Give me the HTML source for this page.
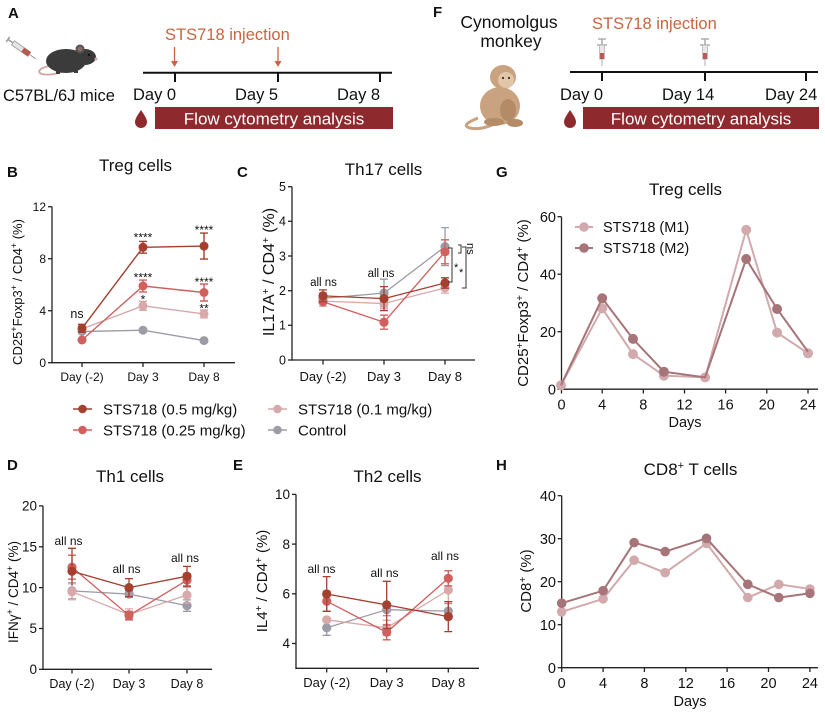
<!DOCTYPE html>
<html><head><meta charset="utf-8"><style>
html,body{margin:0;padding:0;background:#fff;}
svg{display:block;font-family:"Liberation Sans",Arial,sans-serif;}
</style></head><body>
<svg width="825" height="712" viewBox="0 0 825 712" xmlns="http://www.w3.org/2000/svg">
<rect width="825" height="712" fill="#fff"/>

<!-- ============ PANEL A ============ -->
<text x="8" y="18" font-size="15" font-weight="bold" fill="#111">A</text>
<!-- syringe -->
<g transform="translate(26,52) rotate(35)">
  <rect x="-16" y="-2.5" width="20" height="5" fill="#e6e6e6" stroke="#999" stroke-width="0.8"/>
  <rect x="-4" y="-2.5" width="8" height="5" fill="#b85a4a"/>
  <line x1="-22" y1="0" x2="-16" y2="0" stroke="#999" stroke-width="1.5"/>
  <line x1="-22" y1="-3" x2="-22" y2="3" stroke="#999" stroke-width="1.5"/>
  <line x1="4" y1="0" x2="12" y2="0" stroke="#888" stroke-width="0.8"/>
</g>
<!-- mouse -->
<path d="M49 66 C40 68 36 72 42 74 C50 76 58 73 64 71" fill="none" stroke="#d6a3a3" stroke-width="1.8"/>
<ellipse cx="66" cy="61" rx="20" ry="12" fill="#3b3b3b"/>
<ellipse cx="85" cy="57" rx="11" ry="8" fill="#3b3b3b"/>
<circle cx="80" cy="49" r="4.5" fill="#555"/>
<circle cx="80" cy="49" r="2.5" fill="#8a6a6a"/>
<circle cx="89" cy="55" r="1.2" fill="#111"/>
<circle cx="96" cy="59" r="1.5" fill="#d6a3a3"/>
<rect x="56" y="70" width="4" height="4" fill="#3b3b3b"/>
<rect x="74" y="69" width="4" height="4" fill="#3b3b3b"/>
<text x="3" y="101" font-size="16.5" fill="#111">C57BL/6J mice</text>

<text x="165" y="40" font-size="16.5" fill="#c8653f">STS718 injection</text>
<g stroke="#c8653f" stroke-width="1.3" fill="#c8653f">
  <line x1="174.5" y1="47" x2="174.5" y2="63"/>
  <path d="M171 61 L174.5 67 L178 61 Z" stroke="none"/>
  <line x1="278" y1="47" x2="278" y2="63"/>
  <path d="M274.5 61 L278 67 L281.5 61 Z" stroke="none"/>
</g>
<line x1="143" y1="72.7" x2="392" y2="72.7" stroke="#111" stroke-width="2"/>
<g stroke="#111" stroke-width="2">
  <line x1="175" y1="72.7" x2="175" y2="82"/>
  <line x1="278" y1="72.7" x2="278" y2="82"/>
  <line x1="380" y1="72.7" x2="380" y2="82"/>
</g>
<text x="133" y="100" font-size="16.5" fill="#111">Day 0</text>
<text x="235" y="100" font-size="16.5" fill="#111">Day 5</text>
<text x="337" y="100" font-size="16.5" fill="#111">Day 8</text>
<path d="M141 110 C137 116 135 119 135 122 A6 6 0 0 0 147 122 C147 119 145 116 141 110 Z" fill="#8e2a2d"/>
<rect x="155" y="107" width="238" height="22" fill="#8e2a2d"/>
<text x="274" y="124.5" font-size="17" fill="#fff" text-anchor="middle">Flow cytometry analysis</text>

<!-- ============ PANEL F ============ -->
<text x="433" y="17" font-size="15" font-weight="bold" fill="#111">F</text>
<text x="509" y="28" font-size="17.5" fill="#111" text-anchor="middle">Cynomolgus</text>
<text x="511" y="47" font-size="17.5" fill="#111" text-anchor="middle">monkey</text>
<!-- monkey -->
<path d="M478 118 C468 122 462 126 470 128 C478 130 488 127 494 124" fill="none" stroke="#c9a27f" stroke-width="3"/>
<ellipse cx="500" cy="106" rx="20" ry="19" fill="#c9a27f"/>
<ellipse cx="503" cy="77" rx="13" ry="12" fill="#c9a27f"/>
<ellipse cx="506" cy="80" rx="8" ry="8" fill="#e3c6a8"/>
<circle cx="503" cy="78" r="1.1" fill="#333"/>
<circle cx="509" cy="78" r="1.1" fill="#333"/>
<ellipse cx="508" cy="110" rx="8" ry="11" fill="#b38b67"/>
<ellipse cx="494" cy="122" rx="10" ry="4" fill="#b38b67"/>
<ellipse cx="515" cy="123" rx="8" ry="4" fill="#b38b67"/>

<text x="592" y="29" font-size="16.5" fill="#c8653f">STS718 injection</text>
<g>
  <line x1="598" y1="39" x2="606" y2="39" stroke="#999" stroke-width="1.2"/>
  <line x1="602" y1="39" x2="602" y2="45" stroke="#aaa" stroke-width="1.5"/>
  <line x1="597" y1="45" x2="607" y2="45" stroke="#999" stroke-width="1.2"/>
  <rect x="599.5" y="45" width="5" height="14" fill="#e8e8e8" stroke="#aaa" stroke-width="0.7"/>
  <rect x="600" y="53" width="4" height="6" fill="#b85a5a"/>
  <line x1="602" y1="59" x2="602" y2="66" stroke="#999" stroke-width="0.8"/>
  <line x1="701" y1="39" x2="709" y2="39" stroke="#999" stroke-width="1.2"/>
  <line x1="705" y1="39" x2="705" y2="45" stroke="#aaa" stroke-width="1.5"/>
  <line x1="700" y1="45" x2="710" y2="45" stroke="#999" stroke-width="1.2"/>
  <rect x="702.5" y="45" width="5" height="14" fill="#e8e8e8" stroke="#aaa" stroke-width="0.7"/>
  <rect x="703" y="53" width="4" height="6" fill="#b85a5a"/>
  <line x1="705" y1="59" x2="705" y2="66" stroke="#999" stroke-width="0.8"/>
</g>
<line x1="570" y1="72" x2="818" y2="72" stroke="#111" stroke-width="2"/>
<g stroke="#111" stroke-width="2">
  <line x1="602" y1="72" x2="602" y2="81"/>
  <line x1="705" y1="72" x2="705" y2="81"/>
  <line x1="806" y1="72" x2="806" y2="81"/>
</g>
<text x="560" y="100" font-size="16.5" fill="#111">Day 0</text>
<text x="662" y="100" font-size="16.5" fill="#111">Day 14</text>
<text x="765" y="100" font-size="16.5" fill="#111">Day 24</text>
<path d="M570 110 C566 116 564 119 564 122 A6 6 0 0 0 576 122 C576 119 574 116 570 110 Z" fill="#8e2a2d"/>
<rect x="583" y="107" width="236" height="22" fill="#8e2a2d"/>
<text x="701" y="124.5" font-size="17" fill="#fff" text-anchor="middle">Flow cytometry analysis</text>

<!-- ============ PANEL B ============ -->
<text x="7" y="177" font-size="15" font-weight="bold" fill="#111">B</text>
<text x="135.5" y="171" font-size="17" fill="#111" text-anchor="middle">Treg cells</text>
<g stroke="#222" stroke-width="1.3" fill="none">
  <line x1="52" y1="206.7" x2="52" y2="363.3"/>
  <line x1="51.4" y1="362.7" x2="235" y2="362.7"/>
  <line x1="48" y1="206.7" x2="52" y2="206.7"/>
  <line x1="48" y1="258.7" x2="52" y2="258.7"/>
  <line x1="48" y1="310.7" x2="52" y2="310.7"/>
  <line x1="48" y1="362.7" x2="52" y2="362.7"/>
  <line x1="82" y1="362.7" x2="82" y2="367"/>
  <line x1="143" y1="362.7" x2="143" y2="367"/>
  <line x1="204" y1="362.7" x2="204" y2="367"/>
</g>
<g font-size="12" fill="#111" text-anchor="end">
  <text x="46" y="211">12</text><text x="46" y="263">8</text><text x="46" y="315">4</text><text x="46" y="367">0</text>
</g>
<g font-size="12" fill="#111" text-anchor="middle">
  <text x="82" y="381">Day (-2)</text><text x="143" y="381">Day 3</text><text x="204" y="381">Day 8</text>
</g>
<text transform="translate(22,292) rotate(-90)" font-size="13" fill="#111" text-anchor="middle">CD25<tspan font-size="9" baseline-shift="super">+</tspan>Foxp3<tspan font-size="9" baseline-shift="super">+</tspan> / CD4<tspan font-size="9" baseline-shift="super">+</tspan> (%)</text>
<!-- control -->
<g stroke="#9c9ca6" fill="#9c9ca6" stroke-width="1.4">
  <polyline points="82,331.5 143,330.2 204,340.6" fill="none"/>
  <circle cx="82" cy="331.5" r="4.5" stroke="none"/><circle cx="143" cy="330.2" r="4.5" stroke="none"/><circle cx="204" cy="340.6" r="4.5" stroke="none"/>
</g>
<!-- 0.1 -->
<g stroke="#d8a8aa" fill="#d8a8aa" stroke-width="1.4">
  <polyline points="82,328.9 143,305.8 204,313.9" fill="none"/>
  <path d="M143 301.3V310.3M139 301.3H147M139 310.3H147M204 310V317.8M200 310H208M200 317.8H208" fill="none"/>
  <circle cx="82" cy="328.9" r="4.5" stroke="none"/><circle cx="143" cy="305.8" r="4.5" stroke="none"/><circle cx="204" cy="313.9" r="4.5" stroke="none"/>
</g>
<!-- 0.25 -->
<g stroke="#d0605e" fill="#d0605e" stroke-width="1.4">
  <polyline points="82,340 143,286 204,292.5" fill="none"/>
  <path d="M143 280.1V291.9M139 280.1H147M139 291.9H147M204 284V301M200 284H208M200 301H208" fill="none"/>
  <circle cx="82" cy="340" r="4.5" stroke="none"/><circle cx="143" cy="286" r="4.5" stroke="none"/><circle cx="204" cy="292.5" r="4.5" stroke="none"/>
</g>
<!-- 0.5 -->
<g stroke="#a3402f" fill="#a3402f" stroke-width="1.4">
  <polyline points="82,328.3 143,247.3 204,246.1" fill="none"/>
  <path d="M82 324.3V332.3M78 324.3H86M78 332.3H86M143 241.4V253.2M139 241.4H147M139 253.2H147M204 233.1V259.1M200 233.1H208M200 259.1H208" fill="none"/>
  <circle cx="82" cy="328.3" r="4.5" stroke="none"/><circle cx="143" cy="247.3" r="4.5" stroke="none"/><circle cx="204" cy="246.1" r="4.5" stroke="none"/>
</g>
<text x="77" y="318" font-size="12.5" fill="#111" text-anchor="middle">ns</text>
<g font-size="12" fill="#111" text-anchor="middle">
  <text x="143" y="241.6">****</text><text x="204" y="234">****</text>
  <text x="143" y="281.6">****</text><text x="204" y="286">****</text>
  <text x="143" y="303.6">*</text><text x="204" y="312.6">**</text>
</g>

<!-- ============ PANEL C ============ -->
<text x="237" y="177" font-size="15" font-weight="bold" fill="#111">C</text>
<text x="383.5" y="175" font-size="17" fill="#111" text-anchor="middle">Th17 cells</text>
<g stroke="#222" stroke-width="1.3" fill="none">
  <line x1="292" y1="186.7" x2="292" y2="360.6"/>
  <line x1="291.4" y1="360" x2="475" y2="360"/>
  <line x1="288" y1="186.7" x2="292" y2="186.7"/>
  <line x1="288" y1="221.3" x2="292" y2="221.3"/>
  <line x1="288" y1="256" x2="292" y2="256"/>
  <line x1="288" y1="290.7" x2="292" y2="290.7"/>
  <line x1="288" y1="325.3" x2="292" y2="325.3"/>
  <line x1="288" y1="360" x2="292" y2="360"/>
  <line x1="323" y1="360" x2="323" y2="364.5"/>
  <line x1="384" y1="360" x2="384" y2="364.5"/>
  <line x1="445" y1="360" x2="445" y2="364.5"/>
</g>
<g font-size="12.5" fill="#111" text-anchor="end">
  <text x="286" y="191">5</text><text x="286" y="225.7">4</text><text x="286" y="260.4">3</text><text x="286" y="295">2</text><text x="286" y="329.7">1</text><text x="286" y="364.4">0</text>
</g>
<g font-size="13" fill="#111" text-anchor="middle">
  <text x="323" y="381">Day (-2)</text><text x="384" y="381">Day 3</text><text x="445" y="381">Day 8</text>
</g>
<text transform="translate(274,272) rotate(-90)" font-size="16" fill="#111" text-anchor="middle">IL17A<tspan font-size="10" baseline-shift="super">+</tspan> / CD4<tspan font-size="10" baseline-shift="super">+</tspan> (%)</text>
<g stroke="#9c9ca6" fill="#9c9ca6" stroke-width="1.3">
  <polyline points="323,298.3 384,293.1 445,246.6" fill="none"/>
  <path d="M323 293.1V303.5M319 293.1H327M319 303.5H327M384 279.2V307M380 279.2H388M380 307H388M445 227.6V265.6M441 227.6H449M441 265.6H449" fill="none"/>
  <circle cx="323" cy="298.3" r="4.6" stroke="none"/><circle cx="384" cy="293.1" r="4.6" stroke="none"/><circle cx="445" cy="246.6" r="4.6" stroke="none"/>
</g>
<g stroke="#d8a8aa" fill="#d8a8aa" stroke-width="1.3">
  <polyline points="323,301.1 384,303.5 445,287.9" fill="none"/>
  <path d="M323 295.9V306.3M319 295.9H327M319 306.3H327M384 298.3V308.7M380 298.3H388M380 308.7H388M445 282.7V293.1M441 282.7H449M441 293.1H449" fill="none"/>
  <circle cx="323" cy="301.1" r="4.6" stroke="none"/><circle cx="384" cy="303.5" r="4.6" stroke="none"/><circle cx="445" cy="287.9" r="4.6" stroke="none"/>
</g>
<g stroke="#d0605e" fill="#d0605e" stroke-width="1.3">
  <polyline points="323,301.8 384,322.2 445,251.8" fill="none"/>
  <path d="M384 315.2V329.2M380 315.2H388M380 329.2H388M445 239.8V263.8M441 239.8H449M441 263.8H449" fill="none"/>
  <circle cx="323" cy="301.8" r="4.6" stroke="none"/><circle cx="384" cy="322.2" r="4.6" stroke="none"/><circle cx="445" cy="251.8" r="4.6" stroke="none"/>
</g>
<g stroke="#a3402f" fill="#a3402f" stroke-width="1.3">
  <polyline points="323,295.9 384,298.6 445,283" fill="none"/>
  <path d="M323 289.9V301.9M319 289.9H327M319 301.9H327M384 286.6V310.6M380 286.6H388M380 310.6H388M445 277.8V288.2M441 277.8H449M441 288.2H449" fill="none"/>
  <circle cx="323" cy="295.9" r="4.6" stroke="none"/><circle cx="384" cy="298.6" r="4.6" stroke="none"/><circle cx="445" cy="283" r="4.6" stroke="none"/>
</g>
<g font-size="11.5" fill="#111" text-anchor="middle">
  <text x="323.5" y="286">all ns</text><text x="381" y="277">all ns</text>
</g>
<g stroke="#333" stroke-width="1" fill="none">
  <path d="M448 248H452V282H448"/>
  <path d="M458 245H461V253H458"/>
  <path d="M462 247H466V288H462"/>
</g>
<g font-size="11" fill="#111">
  <text x="454" y="271">*</text>
  <text x="459" y="276">*</text>
  <text transform="translate(467,243) rotate(90)" font-size="11">ns</text>
</g>

<!-- ============ PANEL G ============ -->
<text x="496" y="177" font-size="15" font-weight="bold" fill="#111">G</text>
<text x="685.5" y="195" font-size="17" fill="#111" text-anchor="middle">Treg cells</text>
<g stroke="#222" stroke-width="1.3" fill="none">
  <line x1="561.5" y1="216.7" x2="561.5" y2="389.8"/>
  <line x1="560.9" y1="389.2" x2="818" y2="389.2"/>
  <line x1="557.5" y1="216.7" x2="561.5" y2="216.7"/>
  <line x1="557.5" y1="274.2" x2="561.5" y2="274.2"/>
  <line x1="557.5" y1="331.7" x2="561.5" y2="331.7"/>
  <line x1="557.5" y1="389.2" x2="561.5" y2="389.2"/>
  <line x1="561.5" y1="389.2" x2="561.5" y2="393.5"/>
  <line x1="602.2" y1="389.2" x2="602.2" y2="393.5"/>
  <line x1="643.3" y1="389.2" x2="643.3" y2="393.5"/>
  <line x1="684.5" y1="389.2" x2="684.5" y2="393.5"/>
  <line x1="725.6" y1="389.2" x2="725.6" y2="393.5"/>
  <line x1="766.8" y1="389.2" x2="766.8" y2="393.5"/>
  <line x1="808" y1="389.2" x2="808" y2="393.5"/>
</g>
<g font-size="14.5" fill="#111" text-anchor="end">
  <text x="556" y="221.8">60</text><text x="556" y="279.3">40</text><text x="556" y="336.8">20</text><text x="556" y="394.3">0</text>
</g>
<g font-size="14.5" fill="#111" text-anchor="middle">
  <text x="561.5" y="409.5">0</text><text x="602.2" y="409.5">4</text><text x="643.3" y="409.5">8</text><text x="684.5" y="409.5">12</text><text x="725.6" y="409.5">16</text><text x="766.8" y="409.5">20</text><text x="808" y="409.5">24</text>
  <text x="685" y="427">Days</text>
</g>
<text transform="translate(528,303) rotate(-90)" font-size="15" fill="#111" text-anchor="middle">CD25<tspan font-size="10" baseline-shift="super">+</tspan>Foxp3<tspan font-size="10" baseline-shift="super">+</tspan> / CD4<tspan font-size="10" baseline-shift="super">+</tspan> (%)</text>
<g stroke="#d2a9ac" fill="#d2a9ac" stroke-width="2">
  <polyline points="561,385.2 602.2,308.4 633,354.1 663.9,375.7 705.1,377.4 746.2,229.9 777.1,332.6 808,353.3" fill="none"/>
  <circle cx="561" cy="385.2" r="5" stroke="none"/><circle cx="602.2" cy="308.4" r="5" stroke="none"/><circle cx="633" cy="354.1" r="5" stroke="none"/><circle cx="663.9" cy="375.7" r="5" stroke="none"/><circle cx="705.1" cy="377.4" r="5" stroke="none"/><circle cx="746.2" cy="229.9" r="5" stroke="none"/><circle cx="777.1" cy="332.6" r="5" stroke="none"/><circle cx="808" cy="353.3" r="5" stroke="none"/>
</g>
<g stroke="#a67479" fill="#a67479" stroke-width="2">
  <polyline points="561,385.2 602.2,298.3 633,338.9 663.9,371.7 705.1,377.4 746.2,259 777.1,309 808,351.8" fill="none"/>
  <circle cx="602.2" cy="298.3" r="5" stroke="none"/><circle cx="633" cy="338.9" r="5" stroke="none"/><circle cx="663.9" cy="371.7" r="5" stroke="none"/><circle cx="746.2" cy="259" r="5" stroke="none"/><circle cx="777.1" cy="309" r="5" stroke="none"/>
</g>
<g stroke-width="2">
  <line x1="575" y1="227" x2="593" y2="227" stroke="#d2a9ac"/><circle cx="584" cy="227" r="4.8" fill="#d2a9ac"/>
  <line x1="575" y1="248" x2="593" y2="248" stroke="#a67479"/><circle cx="584" cy="248" r="4.8" fill="#a67479"/>
</g>
<g font-size="14.5" fill="#111">
  <text x="603" y="232.2">STS718 (M1)</text><text x="603" y="253.2">STS718 (M2)</text>
</g>

<!-- ============ LEGEND ============ -->
<g stroke-width="1.5">
  <line x1="73" y1="409" x2="92" y2="409" stroke="#a3402f"/><circle cx="82.5" cy="409" r="4.3" fill="#a3402f"/>
  <line x1="73" y1="430" x2="92" y2="430" stroke="#d0605e"/><circle cx="82.5" cy="430" r="4.3" fill="#d0605e"/>
  <line x1="268" y1="409" x2="287" y2="409" stroke="#d8a8aa"/><circle cx="277.5" cy="409" r="4.3" fill="#d8a8aa"/>
  <line x1="268" y1="430" x2="287" y2="430" stroke="#9c9ca6"/><circle cx="277.5" cy="430" r="4.3" fill="#9c9ca6"/>
</g>
<g font-size="15" fill="#111">
  <text x="103" y="414.3">STS718 (0.5 mg/kg)</text>
  <text x="103" y="435.3">STS718 (0.25 mg/kg)</text>
  <text x="298" y="414.3">STS718 (0.1 mg/kg)</text>
  <text x="298" y="435.3">Control</text>
</g>

<!-- ============ PANEL D ============ -->
<text x="7" y="470" font-size="15" font-weight="bold" fill="#111">D</text>
<text x="130" y="482" font-size="17" fill="#111" text-anchor="middle">Th1 cells</text>
<g stroke="#222" stroke-width="1.3" fill="none">
  <line x1="43" y1="505.9" x2="43" y2="669.9"/>
  <line x1="42.4" y1="669.3" x2="212" y2="669.3"/>
  <line x1="39" y1="505.9" x2="43" y2="505.9"/>
  <line x1="39" y1="546.8" x2="43" y2="546.8"/>
  <line x1="39" y1="587.6" x2="43" y2="587.6"/>
  <line x1="39" y1="628.5" x2="43" y2="628.5"/>
  <line x1="39" y1="669.3" x2="43" y2="669.3"/>
  <line x1="72" y1="669.3" x2="72" y2="673.5"/>
  <line x1="129" y1="669.3" x2="129" y2="673.5"/>
  <line x1="187" y1="669.3" x2="187" y2="673.5"/>
</g>
<g font-size="13.5" fill="#111" text-anchor="end">
  <text x="37" y="510.6">20</text><text x="37" y="551.5">15</text><text x="37" y="592.3">10</text><text x="37" y="633.2">5</text><text x="37" y="674">0</text>
</g>
<g font-size="12.5" fill="#111" text-anchor="middle">
  <text x="72" y="688">Day (-2)</text><text x="129" y="688">Day 3</text><text x="187" y="688">Day 8</text>
</g>
<text transform="translate(18,592) rotate(-90)" font-size="13.5" fill="#111" text-anchor="middle">IFNγ<tspan font-size="9" baseline-shift="super">+</tspan> / CD4<tspan font-size="9" baseline-shift="super">+</tspan> (%)</text>
<g stroke="#9c9ca6" fill="#9c9ca6" stroke-width="1.3">
  <polyline points="72,590.9 129,594.1 187,605.6" fill="none"/>
  <path d="M72 582.9V598.9M68 582.9H76M68 598.9H76M129 590.8V597.4M125 590.8H133M125 597.4H133M187 599.9V611.3M183 599.9H191M183 611.3H191" fill="none"/>
  <circle cx="72" cy="590.9" r="4.6" stroke="none"/><circle cx="129" cy="594.1" r="4.6" stroke="none"/><circle cx="187" cy="605.6" r="4.6" stroke="none"/>
</g>
<g stroke="#d8a8aa" fill="#d8a8aa" stroke-width="1.3">
  <polyline points="72,591.7 129,614.6 187,595" fill="none"/>
  <path d="M72 583.7V599.7M68 583.7H76M68 599.7H76M129 608.9V620.3M125 608.9H133M125 620.3H133M187 587V603M183 587H191M183 603H191" fill="none"/>
  <circle cx="72" cy="591.7" r="4.6" stroke="none"/><circle cx="129" cy="614.6" r="4.6" stroke="none"/><circle cx="187" cy="595" r="4.6" stroke="none"/>
</g>
<g stroke="#d0605e" fill="#d0605e" stroke-width="1.3">
  <polyline points="72,567.2 129,615.4 187,580.2" fill="none"/>
  <path d="M72 555.2V579.2M68 555.2H76M68 579.2H76M129 611.4V619.4M125 611.4H133M125 619.4H133M187 573.7V586.7M183 573.7H191M183 586.7H191" fill="none"/>
  <circle cx="72" cy="567.2" r="4.6" stroke="none"/><circle cx="129" cy="615.4" r="4.6" stroke="none"/><circle cx="187" cy="580.2" r="4.6" stroke="none"/>
</g>
<g stroke="#a3402f" fill="#a3402f" stroke-width="1.3">
  <polyline points="72,571.3 129,587.6 187,576.2" fill="none"/>
  <path d="M72 548.3V585M68 548.3H76M129 578.6V596.6M125 578.6H133M125 596.6H133M187 566.4V586M183 566.4H191M183 586H191" fill="none"/>
  <circle cx="72" cy="571.3" r="4.6" stroke="none"/><circle cx="129" cy="587.6" r="4.6" stroke="none"/><circle cx="187" cy="576.2" r="4.6" stroke="none"/>
</g>
<g font-size="12" fill="#111" text-anchor="middle">
  <text x="68.5" y="545">all ns</text><text x="126.5" y="573">all ns</text><text x="185" y="562">all ns</text>
</g>

<!-- ============ PANEL E ============ -->
<text x="233" y="470" font-size="15" font-weight="bold" fill="#111">E</text>
<text x="387.5" y="482" font-size="17" fill="#111" text-anchor="middle">Th2 cells</text>
<g stroke="#222" stroke-width="1.3" fill="none">
  <line x1="296" y1="494.4" x2="296" y2="668.9"/>
  <line x1="295.4" y1="668.3" x2="479" y2="668.3"/>
  <line x1="292" y1="494.4" x2="296" y2="494.4"/>
  <line x1="292" y1="544.1" x2="296" y2="544.1"/>
  <line x1="292" y1="593.8" x2="296" y2="593.8"/>
  <line x1="292" y1="643.5" x2="296" y2="643.5"/>
  <line x1="326.7" y1="668.3" x2="326.7" y2="672.5"/>
  <line x1="386.7" y1="668.3" x2="386.7" y2="672.5"/>
  <line x1="448.3" y1="668.3" x2="448.3" y2="672.5"/>
</g>
<g font-size="13.5" fill="#111" text-anchor="end">
  <text x="290" y="499.1">10</text><text x="290" y="548.8">8</text><text x="290" y="598.5">6</text><text x="290" y="648.2">4</text>
</g>
<g font-size="13" fill="#111" text-anchor="middle">
  <text x="326.7" y="687">Day (-2)</text><text x="386.7" y="687">Day 3</text><text x="448.3" y="687">Day 8</text>
</g>
<text transform="translate(267,581) rotate(-90)" font-size="15" fill="#111" text-anchor="middle">IL4<tspan font-size="10" baseline-shift="super">+</tspan> / CD4<tspan font-size="10" baseline-shift="super">+</tspan> (%)</text>
<g stroke="#9c9ca6" fill="#9c9ca6" stroke-width="1.3">
  <polyline points="326.7,627.8 386.7,609.7 448.3,611.1" fill="none"/>
  <path d="M326.7 620.3V635.3M322.7 620.3H330.7M322.7 635.3H330.7M386.7 603.7V615.7M382.7 603.7H390.7M382.7 615.7H390.7M448.3 603.6V618.6M444.3 603.6H452.3M444.3 618.6H452.3" fill="none"/>
  <circle cx="326.7" cy="627.8" r="4.6" stroke="none"/><circle cx="386.7" cy="609.7" r="4.6" stroke="none"/><circle cx="448.3" cy="611.1" r="4.6" stroke="none"/>
</g>
<g stroke="#d8a8aa" fill="#d8a8aa" stroke-width="1.3">
  <polyline points="326.7,619.8 386.7,627.8 448.3,590" fill="none"/>
  <path d="M386.7 620.3V635.3M382.7 620.3H390.7M382.7 635.3H390.7M448.3 578V602M444.3 578H452.3M444.3 602H452.3" fill="none"/>
  <circle cx="326.7" cy="619.8" r="4.6" stroke="none"/><circle cx="386.7" cy="627.8" r="4.6" stroke="none"/><circle cx="448.3" cy="590" r="4.6" stroke="none"/>
</g>
<g stroke="#d0605e" fill="#d0605e" stroke-width="1.3">
  <polyline points="326.7,601.2 386.7,632.3 448.3,578.3" fill="none"/>
  <path d="M326.7 591.2V611.2M322.7 591.2H330.7M322.7 611.2H330.7M386.7 624.8V639.8M382.7 624.8H390.7M382.7 639.8H390.7M448.3 570.8V585.8M444.3 570.8H452.3M444.3 585.8H452.3" fill="none"/>
  <circle cx="326.7" cy="601.2" r="4.6" stroke="none"/><circle cx="386.7" cy="632.3" r="4.6" stroke="none"/><circle cx="448.3" cy="578.3" r="4.6" stroke="none"/>
</g>
<g stroke="#a3402f" fill="#a3402f" stroke-width="1.3">
  <polyline points="326.7,594 386.7,604.9 448.3,616.6" fill="none"/>
  <path d="M326.7 576.6V611.4M322.7 576.6H330.7M322.7 611.4H330.7M386.7 581.3V628.5M382.7 581.3H390.7M382.7 628.5H390.7M448.3 601.6V631.6M444.3 601.6H452.3M444.3 631.6H452.3" fill="none"/>
  <circle cx="326.7" cy="594" r="4.6" stroke="none"/><circle cx="386.7" cy="604.9" r="4.6" stroke="none"/><circle cx="448.3" cy="616.6" r="4.6" stroke="none"/>
</g>
<g font-size="12" fill="#111" text-anchor="middle">
  <text x="321.5" y="573">all ns</text><text x="384.5" y="577">all ns</text><text x="445" y="560">all ns</text>
</g>

<!-- ============ PANEL H ============ -->
<text x="496" y="470" font-size="15" font-weight="bold" fill="#111">H</text>
<text x="690.5" y="475" font-size="17" fill="#111" text-anchor="middle">CD8<tspan font-size="11" baseline-shift="super">+</tspan> T cells</text>
<g stroke="#222" stroke-width="1.3" fill="none">
  <line x1="561.7" y1="495.7" x2="561.7" y2="668.3"/>
  <line x1="561.1" y1="667.7" x2="818" y2="667.7"/>
  <line x1="557.7" y1="495.7" x2="561.7" y2="495.7"/>
  <line x1="557.7" y1="538.7" x2="561.7" y2="538.7"/>
  <line x1="557.7" y1="581.7" x2="561.7" y2="581.7"/>
  <line x1="557.7" y1="624.7" x2="561.7" y2="624.7"/>
  <line x1="557.7" y1="667.7" x2="561.7" y2="667.7"/>
  <line x1="561.7" y1="667.7" x2="561.7" y2="672"/>
  <line x1="603.1" y1="667.7" x2="603.1" y2="672"/>
  <line x1="644.4" y1="667.7" x2="644.4" y2="672"/>
  <line x1="685.8" y1="667.7" x2="685.8" y2="672"/>
  <line x1="727.1" y1="667.7" x2="727.1" y2="672"/>
  <line x1="768.5" y1="667.7" x2="768.5" y2="672"/>
  <line x1="809.9" y1="667.7" x2="809.9" y2="672"/>
</g>
<g font-size="14.5" fill="#111" text-anchor="end">
  <text x="556" y="500.8">40</text><text x="556" y="543.8">30</text><text x="556" y="586.8">20</text><text x="556" y="629.8">10</text><text x="556" y="672.8">0</text>
</g>
<g font-size="14.5" fill="#111" text-anchor="middle">
  <text x="561.7" y="688">0</text><text x="603.1" y="688">4</text><text x="644.4" y="688">8</text><text x="685.8" y="688">12</text><text x="727.1" y="688">16</text><text x="768.5" y="688">20</text><text x="809.9" y="688">24</text>
  <text x="690" y="706">Days</text>
</g>
<text transform="translate(531,581) rotate(-90)" font-size="15" fill="#111" text-anchor="middle">CD8<tspan font-size="10" baseline-shift="super">+</tspan> (%)</text>
<g stroke="#d2a9ac" fill="#d2a9ac" stroke-width="2">
  <polyline points="561.7,611.8 603.1,598.9 634.1,560.2 665.1,572.7 706.5,543.4 747.8,597.6 778.8,584.3 809.9,589" fill="none"/>
  <circle cx="561.7" cy="611.8" r="4.8" stroke="none"/><circle cx="603.1" cy="598.9" r="4.8" stroke="none"/><circle cx="634.1" cy="560.2" r="4.8" stroke="none"/><circle cx="665.1" cy="572.7" r="4.8" stroke="none"/><circle cx="706.5" cy="543.4" r="4.8" stroke="none"/><circle cx="747.8" cy="597.6" r="4.8" stroke="none"/><circle cx="778.8" cy="584.3" r="4.8" stroke="none"/><circle cx="809.9" cy="589" r="4.8" stroke="none"/>
</g>
<g stroke="#a67479" fill="#a67479" stroke-width="2">
  <polyline points="561.7,603.2 603.1,590.7 634.1,542.6 665.1,551.6 706.5,538.3 747.8,584.3 778.8,597.6 809.9,593.3" fill="none"/>
  <circle cx="561.7" cy="603.2" r="4.8" stroke="none"/><circle cx="603.1" cy="590.7" r="4.8" stroke="none"/><circle cx="634.1" cy="542.6" r="4.8" stroke="none"/><circle cx="665.1" cy="551.6" r="4.8" stroke="none"/><circle cx="706.5" cy="538.3" r="4.8" stroke="none"/><circle cx="747.8" cy="584.3" r="4.8" stroke="none"/><circle cx="778.8" cy="597.6" r="4.8" stroke="none"/><circle cx="809.9" cy="593.3" r="4.8" stroke="none"/>
</g>
</svg>
</body></html>
